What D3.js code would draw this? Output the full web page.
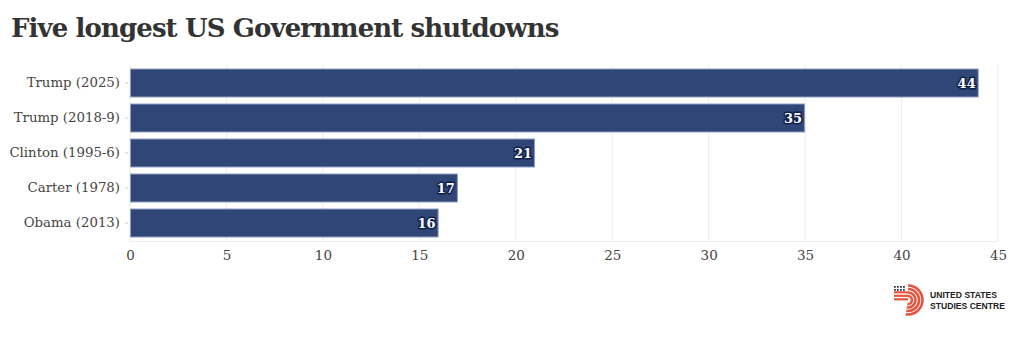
<!DOCTYPE html>
<html>
<head>
<meta charset="utf-8">
<script src="https://cdn.jsdelivr.net/npm/d3@7"></script>
<style>
  body { margin: 0; background: #fff; }
  svg { display: block; }
</style>
</head>
<body>
<svg id="chart" width="1020" height="337"></svg>
<script>
const categories = ["Trump (2025)", "Trump (2018-9)", "Clinton (1995-6)", "Carter (1978)", "Obama (2013)"];
const days = [44, 35, 21, 17, 16];
const xTicks = [0, 5, 10, 15, 20, 25, 30, 35, 40, 45];

const serif = "'DejaVu Serif', 'Liberation Serif', serif";
const svg = d3.select("#chart");

svg.append("text")
  .attr("x", 11).attr("y", 37)
  .attr("font-family", serif)
  .attr("font-weight", "bold")
  .attr("font-size", 26)
  .attr("fill", "#333")
  .attr("letter-spacing", -0.9)
  .text("Five longest US Government shutdowns");

const x = d3.scaleLinear().domain([0, 45]).range([130, 998]);
const y = d3.scaleBand().domain(categories).range([65.5, 240.5]).paddingInner(0.2).paddingOuter(0.1);

// gridlines
svg.append("g").selectAll("line").data(xTicks).join("line")
  .attr("x1", d => x(d)).attr("x2", d => x(d))
  .attr("y1", 65).attr("y2", 241)
  .attr("stroke", "#ececec").attr("stroke-width", 1);

// baseline
svg.append("line")
  .attr("x1", 130).attr("x2", 998).attr("y1", 241.5).attr("y2", 241.5)
  .attr("stroke", "#ececec");

// x axis
const xAxis = svg.append("g")
  .attr("transform", "translate(0,241)")
  .call(d3.axisBottom(x).tickValues(xTicks).tickSize(0).tickPadding(9));
xAxis.select(".domain").remove();
xAxis.selectAll("text")
  .attr("font-family", serif).attr("font-size", 13.5).attr("fill", "#444");

// y axis
const yAxis = svg.append("g")
  .attr("transform", "translate(128,0)")
  .call(d3.axisLeft(y).tickSize(3).tickPadding(5));
yAxis.select(".domain").remove();
yAxis.selectAll("line").attr("stroke", "#ccc");
yAxis.selectAll("text")
  .attr("font-family", serif).attr("font-size", 13.3).attr("fill", "#444");

const rows = categories.map((c, i) => ({ c, v: days[i] }));

// bars
svg.append("g").selectAll("rect").data(rows).join("rect")
  .attr("x", x(0) + 0.5)
  .attr("y", d => y(d.c))
  .attr("width", d => x(d.v) - x(0) - 1)
  .attr("height", y.bandwidth())
  .attr("fill", "#2f4677")
  .attr("stroke", "#8fa0c2")
  .attr("stroke-width", 1);

// value labels
svg.append("g").selectAll("text").data(rows).join("text")
  .attr("x", d => x(d.v) - 3)
  .attr("y", d => y(d.c) + y.bandwidth() / 2)
  .attr("dy", "0.36em")
  .attr("text-anchor", "end")
  .attr("font-family", serif)
  .attr("font-weight", "bold")
  .attr("font-size", 13)
  .attr("fill", "#fff")
  .attr("stroke", "#0f1f4a")
  .attr("stroke-width", 3)
  .attr("stroke-linejoin", "round")
  .attr("paint-order", "stroke")
  .text(d => d.v);

// organisation mark
const logo = svg.append("g").attr("transform", "translate(908,300)");
const red = "#e8553e";
[4, 7.5, 11, 14.5].forEach(r => {
  logo.append("path")
    .attr("d", d3.arc()({ innerRadius: r - 1.3, outerRadius: r + 1.3, startAngle: 0, endAngle: Math.PI * 1.05 }))
    .attr("fill", red);
});
[-8.8, -5.3, -1.8].forEach(yy => {
  logo.append("rect").attr("x", -14).attr("y", yy)
    .attr("width", 14).attr("height", 2.2).attr("fill", red);
});
for (let r = 0; r < 2; r++) for (let c = 0; c < 4; c++) {
  logo.append("rect").attr("x", -14 + c * 3).attr("y", -14 + r * 3)
    .attr("width", 1.8).attr("height", 1.8).attr("fill", "#3a3a3a");
}
const lt = svg.append("g")
  .attr("font-family", "'Liberation Sans', Arial, sans-serif")
  .attr("font-weight", "bold").attr("font-size", 8.6).attr("fill", "#222");
lt.append("text").attr("x", 930).attr("y", 298).text("UNITED STATES");
lt.append("text").attr("x", 930).attr("y", 308.5).text("STUDIES CENTRE");
</script>
</body>
</html>
